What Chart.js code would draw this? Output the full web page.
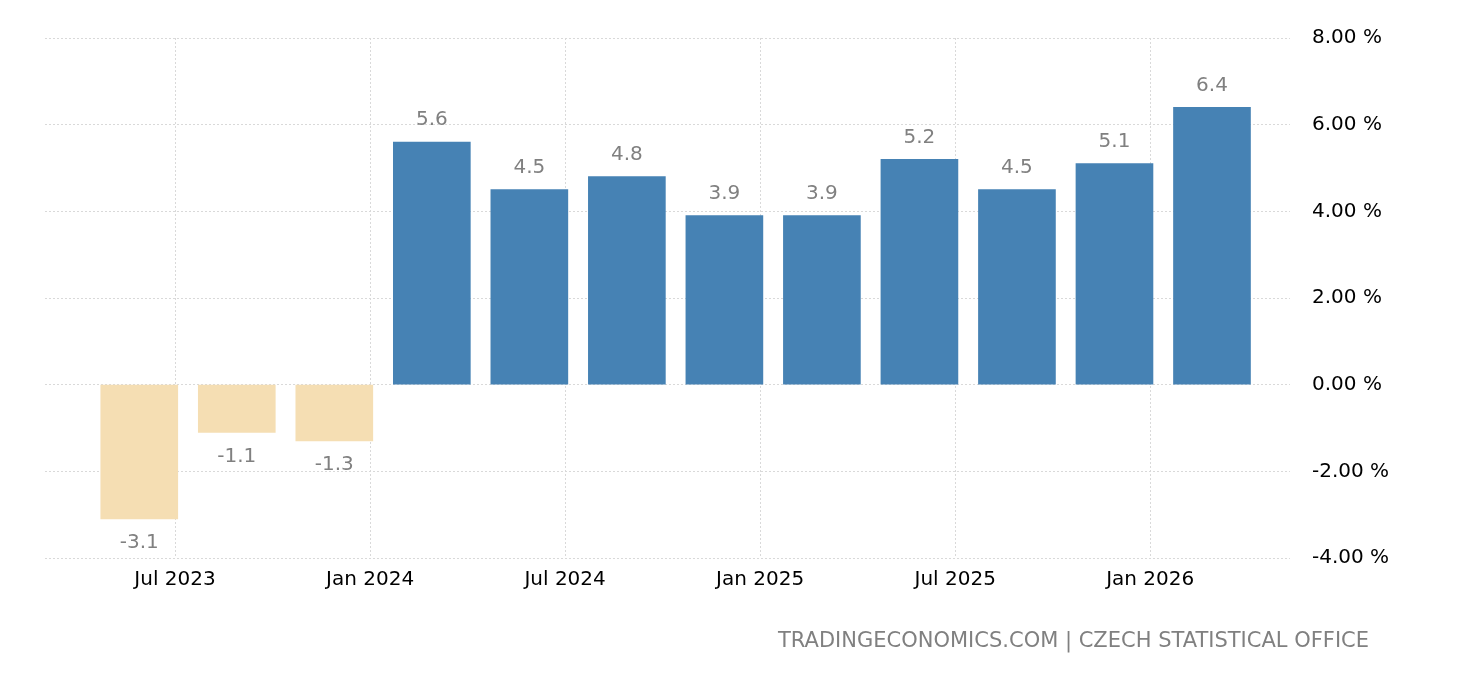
<!DOCTYPE html>
<html>
<head>
<meta charset="utf-8">
<script src="https://cdn.jsdelivr.net/npm/chart.js@4/dist/chart.umd.min.js"></script>
<style>
  body { margin: 0; background: #fff; }
  #wrap { width: 1460px; height: 680px; }
</style>
</head>
<body>
<div id="wrap"><canvas id="chart"></canvas></div>
<script>
// quarters, positioned in months counted from Jan 2023
const quarters = ['Q2 2023','Q3 2023','Q4 2023','Q1 2024','Q2 2024','Q3 2024','Q4 2024','Q1 2025','Q2 2025','Q3 2025','Q4 2025','Q1 2026'];
const quarterPos = [4.9, 7.9, 10.9, 13.9, 16.9, 19.9, 22.9, 25.9, 28.9, 31.9, 34.9, 37.9];
const values = [-3.1, -1.1, -1.3, 5.6, 4.5, 4.8, 3.9, 3.9, 5.2, 4.5, 5.1, 6.4];
const tickMonths = [6, 12, 18, 24, 30, 36];
const tickLabels = ['Jul 2023', 'Jan 2024', 'Jul 2024', 'Jan 2025', 'Jul 2025', 'Jan 2026'];

const FONT = 'Tahoma, "DejaVu Sans", sans-serif';

const labelPlugin = {
  id: 'labels',
  afterDatasetsDraw(chart) {
    const ctx = chart.ctx;
    const meta = chart.getDatasetMeta(0);
    ctx.save();
    ctx.font = '20px ' + FONT;
    ctx.fillStyle = '#808080';
    ctx.textAlign = 'center';
    meta.data.forEach((bar, i) => {
      const v = values[i];
      if (v >= 0) {
        ctx.textBaseline = 'bottom';
        ctx.fillText(v.toFixed(1), bar.x, bar.y - 12);
      } else {
        ctx.textBaseline = 'top';
        ctx.fillText(v.toFixed(1), bar.x, bar.y + 14);
      }
    });
    ctx.font = '21px ' + FONT;
    ctx.textAlign = 'right';
    ctx.textBaseline = 'middle';
    ctx.fillText('TRADINGECONOMICS.COM | CZECH STATISTICAL OFFICE', 1369, 642);
    ctx.restore();
  }
};

new Chart(document.getElementById('chart'), {
  type: 'bar',
  data: {
    datasets: [{
      data: quarterPos.map((x, i) => ({ x: x, y: values[i] })),
      backgroundColor: values.map(v => v < 0 ? '#F5DEB3' : '#4682B4'),
      barThickness: 77
    }]
  },
  options: {
    responsive: true,
    maintainAspectRatio: false,
    animation: false,
    layout: { padding: { left: 45, right: 0, top: 38, bottom: 78 } },
    plugins: { legend: { display: false }, tooltip: { enabled: false } },
    scales: {
      x: {
        type: 'linear',
        offset: false,
        min: 2,
        max: 40.3,
        afterBuildTicks(axis) { axis.ticks = tickMonths.map(v => ({ value: v })); },
        ticks: {
          callback: (v) => tickLabels[tickMonths.indexOf(v)],
          font: { size: 20, family: FONT },
          color: '#000',
          maxRotation: 0,
          padding: 10
        },
        grid: { color: '#d9d9d9', drawTicks: false, offset: false },
        border: { display: false, dash: [2, 2] }
      },
      y: {
        position: 'right',
        min: -4,
        max: 8,
        ticks: {
          stepSize: 2,
          callback: (v) => v.toFixed(2) + ' %',
          font: { size: 20, family: FONT },
          color: '#000',
          padding: 22
        },
        afterFit(axis) { axis.width = 170; },
        grid: { color: '#d9d9d9', drawTicks: false },
        border: { display: false, dash: [2, 2] }
      }
    }
  },
  plugins: [labelPlugin]
});
</script>
</body>
</html>
